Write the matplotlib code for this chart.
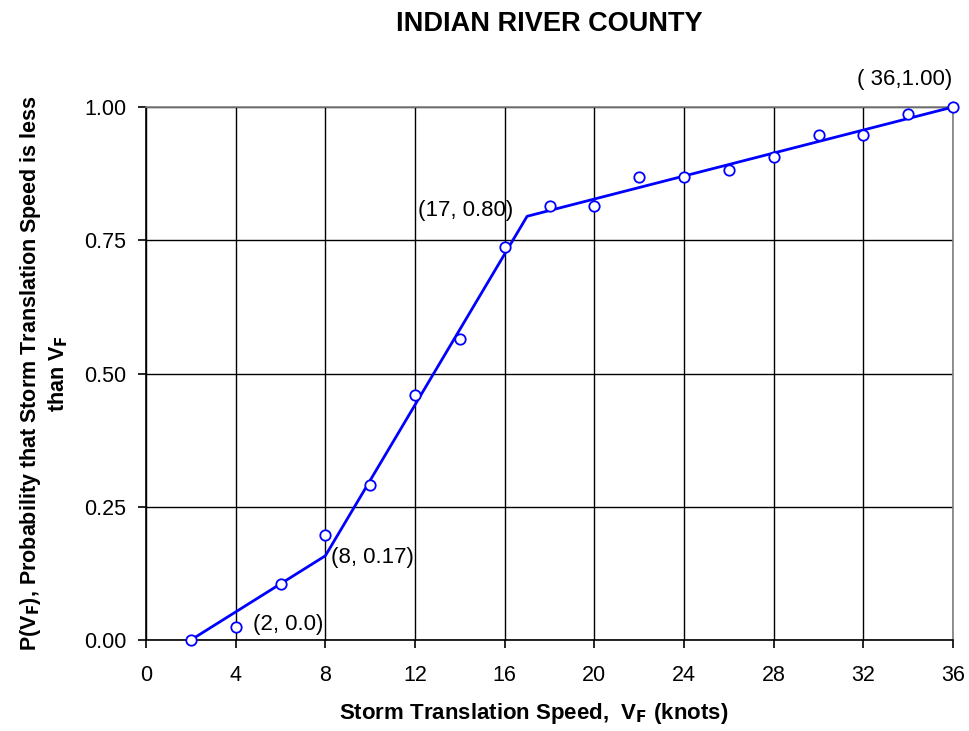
import matplotlib
matplotlib.use("Agg")
import matplotlib.pyplot as plt

plt.rcParams['font.family'] = ['Liberation Sans', 'DejaVu Sans']

speed = [2, 4, 6, 8, 10, 12, 14, 16, 18, 20, 22, 24, 26, 28, 30, 32, 34, 36]
prob = [0.0, 0.025, 0.105, 0.197, 0.29, 0.46, 0.565, 0.737, 0.815, 0.815,
        0.868, 0.868, 0.882, 0.907, 0.947, 0.947, 0.987, 1.0]

fit_x = [2, 8, 17, 36]
fit_y = [0.0, 0.158, 0.795, 1.0]

annot_text = ["(2, 0.0)", "(8, 0.17)", "(17, 0.80)", "( 36,1.00)"]
annot_pos = [(4.75, 0.03), (8.25, 0.155), (12.15, 0.805), (31.7, 1.052)]

xticks = list(range(0, 37, 4))
yticks = [0.0, 0.25, 0.5, 0.75, 1.0]

fig = plt.figure(figsize=(9.69, 7.31), dpi=100)
ax = fig.add_axes([0.1507, 0.1245, 0.8328, 0.7291])

ax.set_xlim(0, 36)
ax.set_ylim(0, 1.0)
ax.set_xticks(xticks)
ax.set_yticks(yticks)
ax.set_yticklabels([f"{v:.2f}" for v in yticks])
ax.grid(True, color='black', linewidth=1.0)
ax.set_axisbelow(True)
for s in ['top', 'right']:
    ax.spines[s].set_color('#808080')
    ax.spines[s].set_linewidth(1.2)
for s in ['left', 'bottom']:
    ax.spines[s].set_linewidth(1.2)
ax.tick_params(direction='out', length=6, width=1.2, labelsize=15.5)
ax.tick_params(axis='x', pad=12)
ax.tick_params(axis='y', pad=8)

ax.plot(fit_x, fit_y, color='#0000FF', linewidth=2, zorder=3, clip_on=False)
ax.plot(speed, prob, linestyle='none', marker='o', markersize=7.5,
        markerfacecolor='white', markeredgecolor='#0000FF', markeredgewidth=1.3,
        zorder=4, clip_on=False)

for t, (x, y) in zip(annot_text, annot_pos):
    ax.text(x, y, t, fontsize=16, ha='left', va='center')

ax.set_title("INDIAN RIVER COUNTY", fontsize=19.5, fontweight='bold', pad=55)
ax.set_xlabel(r"Storm Translation Speed,  V$_\mathbf{F}$ (knots)", fontsize=16, fontweight='bold')
ax.xaxis.set_label_coords(0.48, -0.115)
ax.set_ylabel("P(V$_\\mathbf{F}$), Probability that Storm Translation Speed is less\nthan V$_\\mathbf{F}$",
              fontsize=15.5, fontweight='bold', labelpad=10, linespacing=1.2)

fig.savefig("out.png", dpi=100)
